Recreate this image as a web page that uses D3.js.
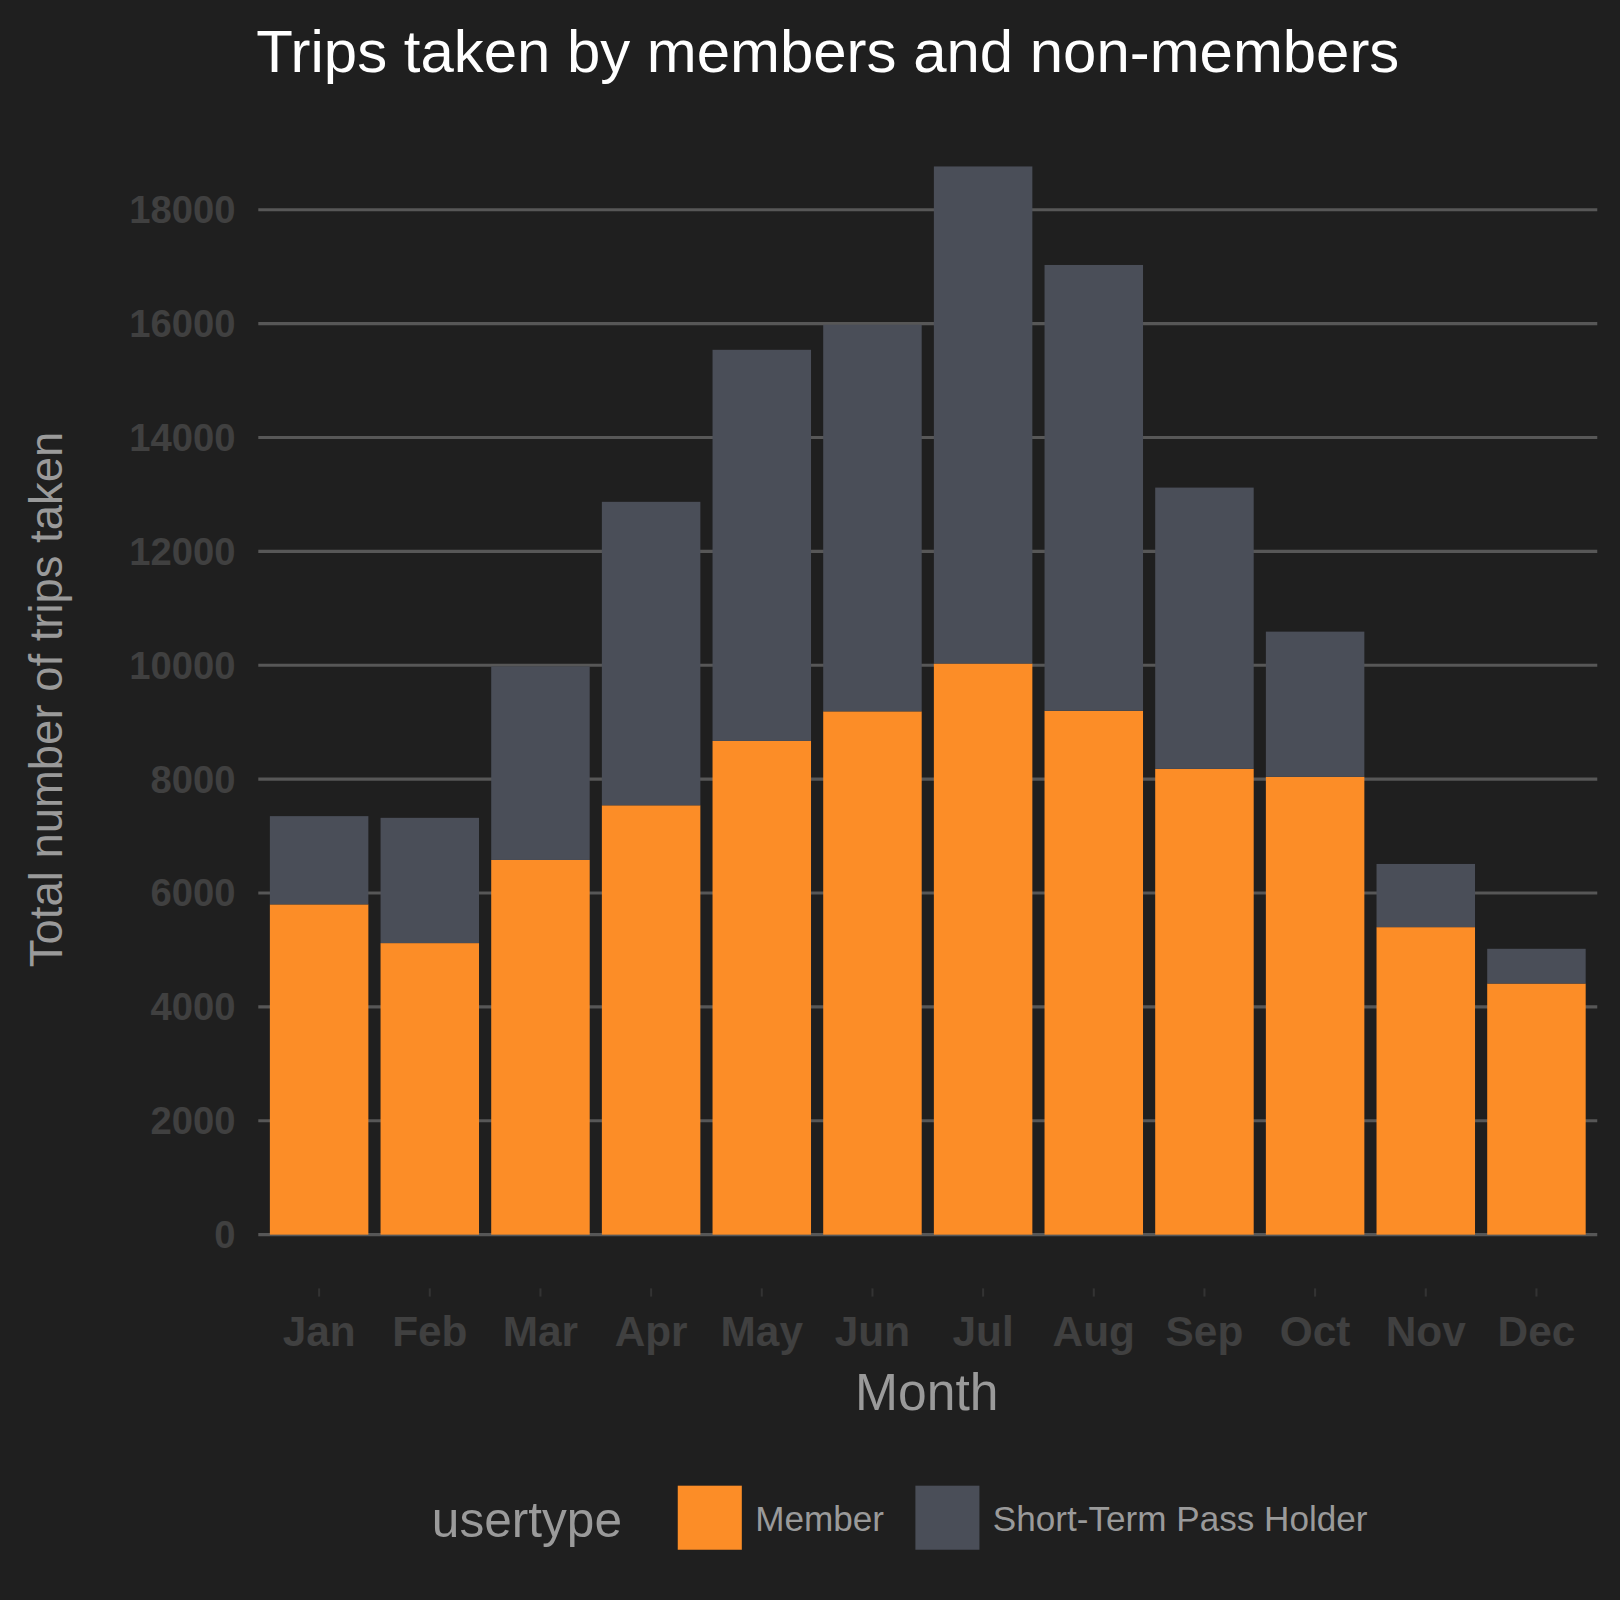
<!DOCTYPE html>
<html lang="en">
<head>
<meta charset="UTF-8">
<title>Trips taken by members and non-members</title>
<script src="https://d3js.org/d3.v7.min.js"></script>
<style>
    body { margin: 0; background: #1f1f1f; }
    svg { display: block; font-family: 'Liberation Sans', Arial, sans-serif; }
</style>
</head>
<body>
<svg></svg>
<script>
    const months = ["Jan", "Feb", "Mar", "Apr", "May", "Jun", "Jul", "Aug", "Sep", "Oct", "Nov", "Dec"];
    const member = [5800, 5120, 6580, 7540, 8670, 9190, 10030, 9200, 8180, 8040, 5400, 4410];
    const shortTerm = [1550, 2200, 3400, 5330, 6870, 6790, 8730, 7830, 4940, 2550, 1110, 610];
    const yTicks = [0, 2000, 4000, 6000, 8000, 10000, 12000, 14000, 16000, 18000];
    const seriesNames = ["Member", "Short-Term Pass Holder"];
    const colors = ["#fc8d27", "#4a4e58"];

    const k = 1620 / 1568;
    const svg = d3.select("svg").attr("width", 1620).attr("height", 1600);
    svg.append("rect").attr("width", 1620).attr("height", 1600).attr("fill", "#1f1f1f");
    const g = svg.append("g").attr("transform", `scale(${k})`);

    const plotLeft = 250, plotRight = 1546, plotBottom = 1195;
    const x = d3.scaleBand().domain(months).range([plotLeft + 8, plotRight - 8]).paddingInner(0.11).paddingOuter(0.03);
    const y = d3.scaleLinear().domain([0, 18000]).range([plotBottom, 203]);

    // grid
    g.append("g").selectAll("line").data(yTicks).join("line")
        .attr("x1", plotLeft).attr("x2", plotRight)
        .attr("y1", d => y(d)).attr("y2", d => y(d))
        .attr("stroke", "#575757").attr("stroke-width", 3);

    // y labels
    g.append("g").selectAll("text").data(yTicks).join("text")
        .attr("x", 228).attr("y", d => y(d) + 13)
        .attr("text-anchor", "end").attr("font-size", 37).attr("font-weight", "bold")
        .attr("fill", "#404040").text(d => d);

    // stacked bars
    const rows = months.map((m, i) => ({ month: m, Member: member[i], "Short-Term Pass Holder": shortTerm[i] }));
    const stack = d3.stack().keys(seriesNames)(rows);
    g.append("g").selectAll("g").data(stack).join("g")
        .attr("fill", (d, i) => colors[i])
        .selectAll("rect").data(d => d).join("rect")
        .attr("x", d => x(d.data.month))
        .attr("width", x.bandwidth())
        .attr("y", d => y(d[1]))
        .attr("height", d => y(d[0]) - y(d[1]));

    // x ticks
    const xg = g.append("g");
    xg.selectAll("line").data(months).join("line")
        .attr("x1", d => x(d) + x.bandwidth() / 2).attr("x2", d => x(d) + x.bandwidth() / 2)
        .attr("y1", 1247).attr("y2", 1255).attr("stroke", "#333").attr("stroke-width", 2);
    xg.selectAll("text").data(months).join("text")
        .attr("x", d => x(d) + x.bandwidth() / 2).attr("y", 1303)
        .attr("text-anchor", "middle").attr("font-size", 41).attr("font-weight", "bold")
        .attr("fill", "#404040").text(d => d);

    // titles
    g.append("text").attr("x", 248).attr("y", 70).attr("font-size", 58).attr("fill", "#ffffff")
        .text("Trips taken by members and non-members");
    g.append("text").attr("x", 897).attr("y", 1365).attr("text-anchor", "middle")
        .attr("font-size", 50).attr("fill", "#9a9a9a").text("Month");
    g.append("text").attr("transform", "translate(60,677) rotate(-90)").attr("text-anchor", "middle")
        .attr("font-size", 44).attr("fill", "#9a9a9a").text("Total number of trips taken");

    // legend
    g.append("text").attr("x", 418).attr("y", 1488).attr("font-size", 48).attr("fill", "#9a9a9a").text("usertype");
    const legX = [656, 886];
    seriesNames.forEach((s, i) => {
        g.append("rect").attr("x", legX[i]).attr("y", 1438).attr("width", 62).attr("height", 62).attr("fill", colors[i]);
        g.append("text").attr("x", legX[i] + 75).attr("y", 1482).attr("font-size", 34)
            .attr("fill", "#9a9a9a").text(s);
    });
</script>
</body>
</html>
